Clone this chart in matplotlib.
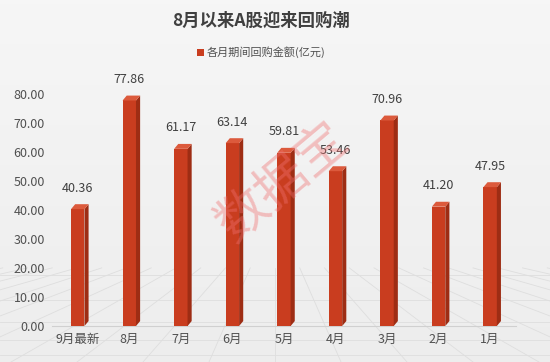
import matplotlib
matplotlib.use("Agg")
import matplotlib.pyplot as plt
from matplotlib.patches import Polygon, Rectangle
import numpy as np

plt.rcParams['font.family'] = ['Noto Sans CJK SC', 'DejaVu Sans']

months = ["9月最新", "8月", "7月", "6月", "5月", "4月", "3月", "2月", "1月"]
amounts = [40.36, 77.86, 61.17, 63.14, 59.81, 53.46, 70.96, 41.20, 47.95]
yticks = [0, 10, 20, 30, 40, 50, 60, 70, 80]

front = "#c93d1f"
side = "#9e2d14"
top = "#dc5a3c"

fig = plt.figure(figsize=(5.5, 3.62), dpi=100)
fig.patch.set_facecolor("#f2f2f2")

# soft background gradient
bg = fig.add_axes([0, 0, 1, 1], zorder=-10)
grad = np.linspace(0.965, 0.93, 256).reshape(-1, 1)
bg.imshow(np.dstack([grad, grad, grad]), aspect="auto", extent=[0, 1, 0, 1])
# faint perspective floor grid
for k in range(-12, 24):
    bg.plot([0.5 + k * 0.045, 0.5 + k * 0.12], [0.26, 0.0], color="#dedede", lw=0.6)
for yy in [0.02, 0.06, 0.11, 0.17, 0.24]:
    bg.plot([0, 1], [yy, yy], color="#dedede", lw=0.6)
bg.set_xlim(0, 1)
bg.set_ylim(0, 1)
bg.axis("off")

ax = fig.add_axes([0.0945, 0.0994, 0.8435, 0.6401])
ax.set_facecolor("none")
x = np.arange(len(months))
w = 0.26
dx = 0.08
dy = 1.7
ax.bar(x, amounts, width=w, color=front, zorder=3)
for xi, v in zip(x, amounts):
    l, r = xi - w / 2, xi + w / 2
    ax.add_patch(Polygon([(r, 0), (r + dx, dy), (r + dx, v + dy), (r, v)],
                         closed=True, facecolor=side, edgecolor="none", zorder=3))
    ax.add_patch(Polygon([(l, v), (l + dx, v + dy), (r + dx, v + dy), (r, v)],
                         closed=True, facecolor=top, edgecolor="none", zorder=3))
    ax.text(xi, v + 5.0, f"{v:.2f}", ha="center", va="bottom", fontsize=9,
            color="#404040", clip_on=False)

ax.set_xlim(-0.5, len(months) - 0.5)
ax.set_ylim(0, 80)
ax.set_xticks(x)
ax.set_xticklabels(months, fontsize=9, color="#505050")
ax.set_yticks(yticks)
ax.set_yticklabels([f"{t:.2f}" for t in yticks], fontsize=9, color="#505050")
ax.tick_params(length=0, pad=5)
for s in ["top", "right", "left"]:
    ax.spines[s].set_visible(False)
ax.spines["bottom"].set_color("#d0d0d0")

fig.text(0.475, 0.943, "8月以来A股迎来回购潮", ha="center", va="center",
         fontsize=12.5, fontweight="bold", color="#404040")
fig.add_artist(Rectangle((0.358, 0.845), 0.012, 0.019, transform=fig.transFigure,
                         facecolor=front, edgecolor="none"))
fig.text(0.376, 0.855, "各月期间回购金额(亿元)", ha="left", va="center",
         fontsize=8, color="#505050")

# watermark
fig.text(0.513, 0.495, "数据宝", ha="center", va="center", fontsize=37,
         color="#f07070", alpha=0.4, rotation=40, zorder=10)

fig.savefig("out.png", dpi=100, facecolor=fig.get_facecolor())
